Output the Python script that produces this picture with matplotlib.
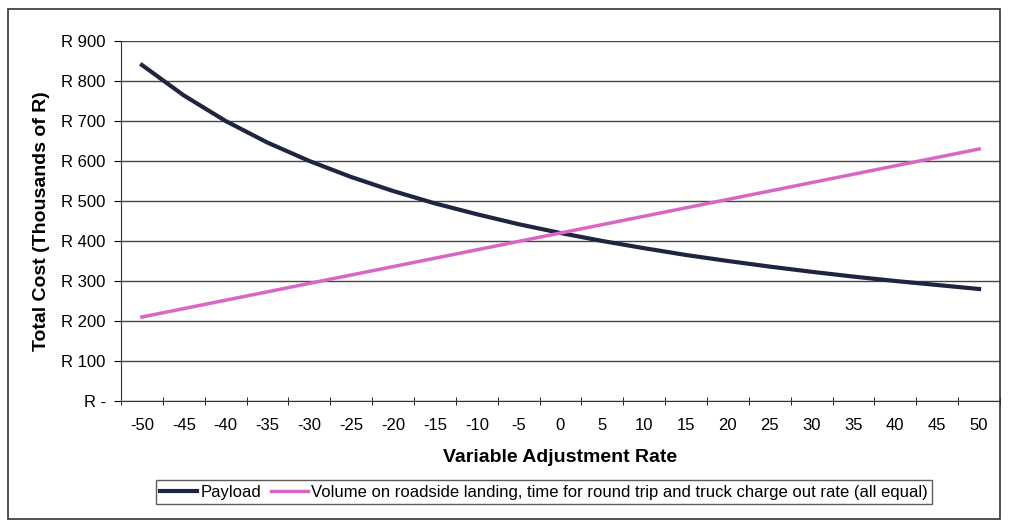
import matplotlib.pyplot as plt
from matplotlib.patches import Rectangle

rates = [-50, -45, -40, -35, -30, -25, -20, -15, -10, -5, 0,
         5, 10, 15, 20, 25, 30, 35, 40, 45, 50]
payload = [840, 764, 700, 646, 600, 560, 525, 494, 467, 442, 420,
           400, 382, 365, 350, 336, 323, 311, 300, 290, 280]
volume = [210, 231, 252, 273, 294, 315, 336, 357, 378, 399, 420,
          441, 462, 483, 504, 525, 546, 567, 588, 609, 630]
ytick_vals = [0, 100, 200, 300, 400, 500, 600, 700, 800, 900]
ytick_labels = ["R -", "R 100", "R 200", "R 300", "R 400", "R 500",
                "R 600", "R 700", "R 800", "R 900"]

plt.rcParams['font.family'] = ['Liberation Sans', 'DejaVu Sans']

W, H = 1009, 527
fig = plt.figure(figsize=(W / 100, H / 100), dpi=100)
# outer chart border
fig.patches.append(Rectangle((8 / W, 8 / H), (1000 - 8) / W, (518 - 8) / H,
                             transform=fig.transFigure, fill=False,
                             edgecolor='#333333', linewidth=1.2))

ax = fig.add_axes([121 / W, 1 - 401 / H, (1000 - 121) / W, (401 - 41) / H])

xpos = list(range(len(rates)))
ax.plot(xpos, payload, color='#1f2540', linewidth=3, label='Payload')
ax.plot(xpos, volume, color='#d966c4', linewidth=2.5,
        label='Volume on roadside landing, time for round trip and truck charge out rate (all equal)')

ax.set_xlim(-0.5, len(rates) - 0.5)
ax.set_ylim(0, 900)
ax.set_xticks(xpos)
ax.set_xticklabels([str(r) for r in rates], fontsize=12)
ax.set_xticks([i - 0.5 for i in range(len(rates) + 1)], minor=True)
ax.tick_params(axis='x', which='major', length=0, pad=12)
ax.tick_params(axis='x', which='minor', length=6, direction='inout')
ax.set_yticks(ytick_vals)
ax.set_yticklabels(ytick_labels, fontsize=12)
ax.tick_params(axis='y', length=5, direction='out', pad=6)

ax.grid(axis='y', color='#444444', linewidth=1)
ax.set_axisbelow(True)
for s in ['top', 'right']:
    ax.spines[s].set_visible(False)
ax.spines['left'].set_color('#333333')
ax.spines['bottom'].set_color('#333333')

ax.set_xlabel('Variable Adjustment Rate', fontsize=14, fontweight='bold', labelpad=12)
ax.set_ylabel('Total Cost (Thousands of R)', fontsize=14, fontweight='bold', labelpad=8)

leg = fig.legend(loc='center', bbox_to_anchor=(544 / W, 1 - 492 / H), ncol=2,
                 fontsize=12, frameon=True, fancybox=False, edgecolor='#333333',
                 handlelength=2.2, handletextpad=0.2, columnspacing=0.6,
                 borderpad=0.25)
leg.get_frame().set_linewidth(1)

fig.savefig('out.png', dpi=100)
